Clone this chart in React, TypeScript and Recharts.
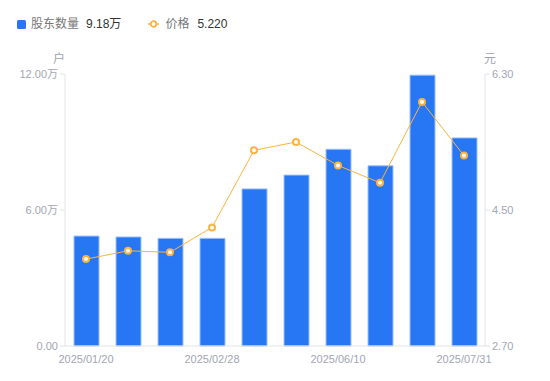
import { ComposedChart, Bar, Line, XAxis, YAxis } from "recharts";

const dates = [
  "2025/01/20",
  "2025/01/31",
  "2025/02/10",
  "2025/02/28",
  "2025/03/31",
  "2025/04/30",
  "2025/06/10",
  "2025/06/20",
  "2025/06/30",
  "2025/07/31",
];
const holders = [48500, 48100, 47500, 47500, 69300, 75400, 86800, 79500, 119500, 91800];
const prices = [3.85, 3.96, 3.94, 4.27, 5.29, 5.4, 5.09, 4.86, 5.93, 5.22];
const leftTicks = [0, 60000, 120000];
const rightTicks = [2.7, 4.5, 6.3];

const data = dates.map((d, i) => ({ date: d, holders: holders[i], price: prices[i] }));

const FONT = '"Liberation Sans", "Noto Sans CJK SC", sans-serif';
const TICK = { fill: "#a2a6b4", fontSize: 11, fontFamily: FONT };
const AXIS = "#e3e4e8";

const fmtHolders = (v: number) => (v === 0 ? "0.00" : (v / 10000).toFixed(2) + "万");

export default function App() {
  return (
    <div style={{ position: "absolute", left: 0, top: 0, width: 550, height: 381, fontFamily: FONT }}>
      <div style={{ position: "absolute", left: 17, top: 17, display: "flex", alignItems: "center", fontSize: 12, lineHeight: "14px" }}>
        <span style={{ width: 9, height: 9, background: "#2776f3", borderRadius: 1.5, display: "inline-block" }} />
        <span style={{ color: "#777", marginLeft: 5 }}>股东数量</span>
        <span style={{ color: "#333", marginLeft: 7 }}>9.18万</span>
        <svg width={11} height={10} style={{ marginLeft: 27 }}>
          <line x1={0} y1={5} x2={11} y2={5} stroke="#fdb33f" strokeWidth={1.5} />
          <circle cx={5.5} cy={5} r={2.8} fill="#fff" stroke="#fdb33f" strokeWidth={1.8} />
        </svg>
        <span style={{ color: "#777", marginLeft: 6 }}>价格</span>
        <span style={{ color: "#333", marginLeft: 8 }}>5.220</span>
      </div>
      <div style={{ position: "absolute", left: 53, top: 49, fontSize: 12, color: "#9ea3b3" }}>户</div>
      <div style={{ position: "absolute", left: 484, top: 49, fontSize: 12, color: "#9ea3b3" }}>元</div>
      <ComposedChart width={550} height={381} data={data} margin={{ top: 74, right: 0, left: 0, bottom: 5 }}>
        <XAxis
          dataKey="date"
          interval={2}
          tickLine={false}
          axisLine={{ stroke: AXIS }}
          tick={TICK}
          tickMargin={3}
          height={30}
        />
        <YAxis
          yAxisId="left"
          orientation="left"
          width={65}
          domain={[0, 120000]}
          ticks={leftTicks}
          tickFormatter={fmtHolders}
          tick={TICK}
          tickSize={5}
          tickLine={{ stroke: AXIS }}
          axisLine={{ stroke: AXIS }}
        />
        <YAxis
          yAxisId="right"
          orientation="right"
          width={65}
          domain={[2.7, 6.3]}
          ticks={rightTicks}
          tickFormatter={(v: number) => v.toFixed(2)}
          tick={TICK}
          tickSize={5}
          tickLine={{ stroke: AXIS }}
          axisLine={{ stroke: AXIS }}
        />
        <Bar
          yAxisId="left"
          dataKey="holders"
          barSize={25}
          fill="#2776f3"
          stroke="#9cc0f8"
          strokeWidth={1}
          isAnimationActive={false}
        />
        <Line
          yAxisId="right"
          dataKey="price"
          type="linear"
          stroke="#fdb33f"
          strokeWidth={1}
          dot={{ r: 3, fill: "#fff", stroke: "#fdb33f", strokeWidth: 2 }}
          isAnimationActive={false}
        />
      </ComposedChart>
    </div>
  );
}
